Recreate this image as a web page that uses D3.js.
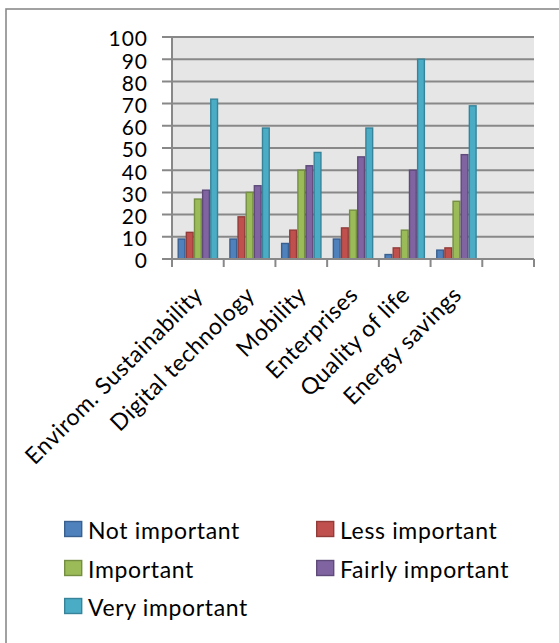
<!DOCTYPE html>
<html>
<head>
<meta charset="utf-8">
<script src="https://cdn.jsdelivr.net/npm/d3@7"></script>
<style>
  html, body { margin: 0; padding: 0; background: #fff; }
  svg { display: block; }
  text { font-family: Lato, "Open Sans", sans-serif; fill: #000; }
</style>
</head>
<body>
<div id="chart"></div>
<script>
// Chart data
const categories = ['Envirom. Sustainability', 'Digital technology', 'Mobility',
    'Enterprises', 'Quality of life', 'Energy savings'];
const seriesNames = ['Not important', 'Less important', 'Important',
    'Fairly important', 'Very important'];
const notImportant = [9, 9, 7, 9, 2, 4];
const lessImportant = [12, 19, 13, 14, 5, 5];
const important = [27, 30, 40, 22, 13, 26];
const fairlyImportant = [31, 33, 42, 46, 40, 47];
const veryImportant = [72, 59, 48, 59, 90, 69];
const yTicks = [0, 10, 20, 30, 40, 50, 60, 70, 80, 90, 100];

const seriesValues = [notImportant, lessImportant, important, fairlyImportant, veryImportant];
const fills = ['#4f81bd', '#c0504d', '#9bbb59', '#8064a2', '#4bacc6'];
const strokes = ['#3a6090', '#923c3a', '#748e42', '#5f4a7a', '#37849a'];

const width = 559, height = 643;
const plot = { left: 172, right: 534, top: 37, bottom: 259 };

const svg = d3.select('#chart')
    .append('svg')
    .attr('width', width)
    .attr('height', height);

// outer frame (cut off at right and bottom like the source)
svg.append('rect')
    .attr('x', 6).attr('y', 9)
    .attr('width', 600).attr('height', 700)
    .style('fill', 'none')
    .style('stroke', '#8a8a8a')
    .style('stroke-width', '1.6px');

// scales: 7 slots, last one left empty
const slots = categories.concat(['']);
const x0 = d3.scaleBand()
    .domain(slots)
    .range([plot.left, plot.right])
    .padding(0);

const x1 = d3.scaleBand()
    .domain(seriesNames)
    .range([5.5, x0.bandwidth() - 5.5])
    .padding(0);

const y = d3.scaleLinear()
    .domain([0, 100])
    .range([plot.bottom, plot.top]);

// plot background
svg.append('rect')
    .attr('x', plot.left).attr('y', plot.top)
    .attr('width', plot.right - plot.left)
    .attr('height', plot.bottom - plot.top)
    .style('fill', '#e6e6e6');

// gridlines with left tick marks
svg.append('g')
    .selectAll('line')
    .data(yTicks)
    .enter()
    .append('line')
    .attr('x1', plot.left - 10)
    .attr('x2', plot.right)
    .attr('y1', d => y(d))
    .attr('y2', d => y(d))
    .style('stroke', '#888')
    .style('stroke-width', '2px');

// y labels
svg.append('g')
    .selectAll('text')
    .data(yTicks)
    .enter()
    .append('text')
    .attr('x', 148)
    .attr('y', d => y(d))
    .attr('dy', '0.45em')
    .attr('text-anchor', 'end')
    .style('font-size', '21px')
    .style('letter-spacing', '1px')
    .text(d => d);

// bars
const groups = svg.append('g')
    .selectAll('g')
    .data(categories)
    .enter()
    .append('g')
    .attr('transform', d => `translate(${x0(d)},0)`);

groups.selectAll('rect')
    .data((d, i) => seriesNames.map((s, k) => ({ s, k, v: seriesValues[k][i] })))
    .enter()
    .append('rect')
    .attr('x', d => x1(d.s) + 0.7)
    .attr('width', x1.bandwidth() - 1.4)
    .attr('y', d => y(d.v))
    .attr('height', d => y(0) - y(d.v))
    .style('fill', d => fills[d.k])
    .style('stroke', d => strokes[d.k])
    .style('stroke-width', '1.4px');

// left axis line
svg.append('line')
    .attr('x1', plot.left).attr('x2', plot.left)
    .attr('y1', plot.top).attr('y2', plot.bottom)
    .style('stroke', '#888')
    .style('stroke-width', '2px');

// bottom axis line + category ticks
svg.append('line')
    .attr('x1', plot.left).attr('x2', plot.right)
    .attr('y1', plot.bottom).attr('y2', plot.bottom)
    .style('stroke', '#888')
    .style('stroke-width', '2px');

const tickXs = slots.map(d => x0(d)).concat([plot.right]);
svg.append('g')
    .selectAll('line')
    .data(tickXs)
    .enter()
    .append('line')
    .attr('x1', d => d).attr('x2', d => d)
    .attr('y1', plot.bottom).attr('y2', plot.bottom + 8)
    .style('stroke', '#888')
    .style('stroke-width', '2px');

// rotated category labels
svg.append('g')
    .selectAll('text')
    .data(categories)
    .enter()
    .append('text')
    .attr('transform', d => `translate(${x0(d) + x0.bandwidth() / 2 - 5},${plot.bottom + 26}) rotate(-45)`)
    .attr('text-anchor', 'end')
    .attr('dy', '0.7em')
    .style('font-size', '23px')
    .style('letter-spacing', '0.5px')
    .text(d => d);

// legend
const legendPos = [
    { x: 64, y: 529 }, { x: 316, y: 529 },
    { x: 64, y: 568 }, { x: 316, y: 568 },
    { x: 64, y: 606 }
];

const legend = svg.append('g')
    .selectAll('g')
    .data(seriesNames)
    .enter()
    .append('g')
    .attr('transform', (d, i) => `translate(${legendPos[i].x},${legendPos[i].y})`);

legend.append('rect')
    .attr('x', 0.7).attr('y', -7.5)
    .attr('width', 17).attr('height', 15)
    .style('fill', (d, i) => fills[i])
    .style('stroke', (d, i) => strokes[i])
    .style('stroke-width', '1.4px');

legend.append('text')
    .attr('x', 24)
    .attr('y', 9.5)
    .style('font-size', '23px')
    .style('letter-spacing', '0.65px')
    .text(d => d);
</script>
</body>
</html>
